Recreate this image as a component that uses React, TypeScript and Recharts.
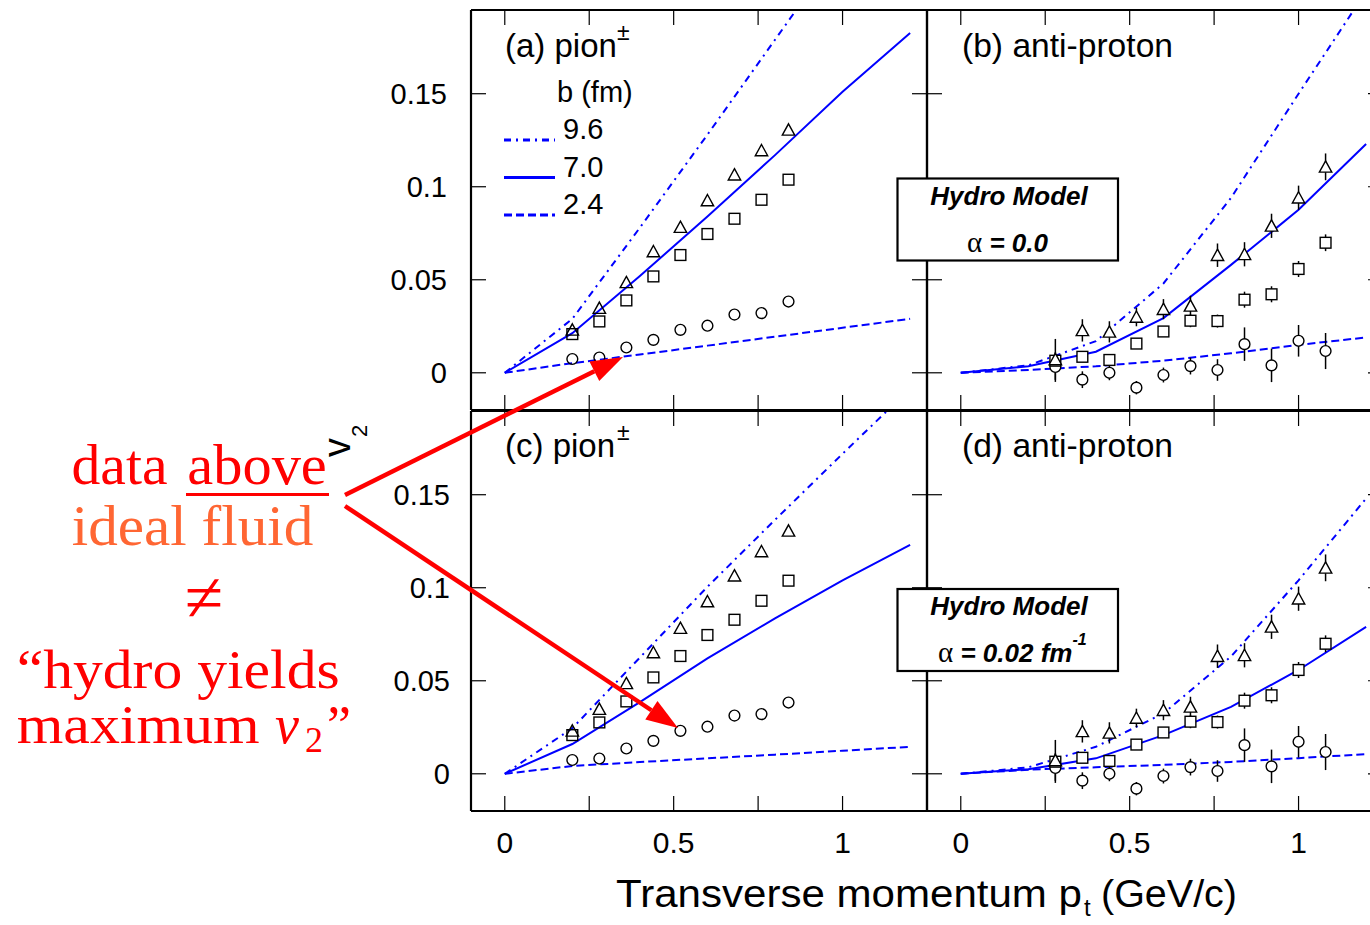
import React from 'react';
import { ComposedChart, Line, Scatter, XAxis, YAxis, ErrorBar } from 'recharts';

// ---------- data ----------
const xTicks = [0, 0.25, 0.5, 0.75, 1];
const yTicks = [0, 0.05, 0.1, 0.15];
const xLabelled = ['0', '0.5', '1'];

// hydro model curves, pt grid
const ptModel = [0, 0.2, 0.4, 0.6, 0.8, 1.0, 1.2];
// (a) pion, alpha = 0
const pionIdealB96 = [0, 0.029, 0.078, 0.128, 0.179, 0.23, 0.28];
const pionIdealB70 = [0, 0.0213, 0.052, 0.084, 0.117, 0.151, 0.1826];
const pionIdealB24 = [0, 0.0052, 0.0098, 0.0146, 0.0194, 0.0242, 0.029];
// (b) anti-proton, alpha = 0
const pbarIdealB96 = [0, 0.004, 0.017, 0.048, 0.094, 0.15, 0.205];
const pbarIdealB70 = [0, 0.0035, 0.0113, 0.0294, 0.058, 0.0876, 0.123];
const pbarIdealB24 = [0, 0.0015, 0.0035, 0.0065, 0.0105, 0.015, 0.019];
// (c) pion, alpha = 0.02 fm^-1
const pionViscB96 = [0, 0.0245, 0.0625, 0.1005, 0.1365, 0.172, 0.207];
const pionViscB70 = [0, 0.016, 0.0385, 0.062, 0.0835, 0.104, 0.123];
const pionViscB24 = [0, 0.0042, 0.0063, 0.0083, 0.0103, 0.0124, 0.0145];
// (d) anti-proton, alpha = 0.02 fm^-1
const pbarViscB96 = [0, 0.0035, 0.0145, 0.0325, 0.063, 0.104, 0.148];
const pbarViscB70 = [0, 0.0025, 0.0083, 0.0208, 0.036, 0.0558, 0.079];
const pbarViscB24 = [0, 0.0022, 0.0035, 0.0048, 0.0064, 0.0084, 0.0106];

// measured pion v2
const ptPion = [0.2, 0.28, 0.36, 0.44, 0.52, 0.6, 0.68, 0.76, 0.84];
const pionPeripheral = [0.0231, 0.0348, 0.0486, 0.0652, 0.0783, 0.0926, 0.1065, 0.1195, 0.1306];
const pionMidCentral = [0.0208, 0.0276, 0.0389, 0.0518, 0.0633, 0.0746, 0.0828, 0.093, 0.1038];
const pionCentral = [0.0074, 0.0082, 0.0136, 0.0177, 0.0231, 0.0253, 0.0313, 0.0321, 0.0383];

// measured anti-proton v2 with errors
const ptPbar = [0.28, 0.36, 0.44, 0.52, 0.6, 0.68, 0.76, 0.84, 0.92, 1.0, 1.08];
const pbarPeripheral = [0.0072, 0.0228, 0.022, 0.03, 0.0342, 0.036, 0.0632, 0.0637, 0.079, 0.0941, 0.1107];
const pbarPeripheralErr = [0.011, 0.006, 0.0057, 0.005, 0.0054, 0.0054, 0.0063, 0.0065, 0.0065, 0.0065, 0.0072];
const pbarMidCentral = [0.0065, 0.0086, 0.0069, 0.0157, 0.0222, 0.028, 0.0278, 0.0393, 0.0422, 0.0558, 0.0699];
const pbarMidCentralErr = [0.004, 0.002, 0.002, 0.002, 0.002, 0.0035, 0.0035, 0.0043, 0.0043, 0.0043, 0.0045];
const pbarCentral = [0.0031, -0.0037, 0, -0.008, -0.0012, 0.0036, 0.0015, 0.0154, 0.004, 0.0172, 0.0117];
const pbarCentralErr = [0.008, 0.0045, 0.004, 0.0036, 0.004, 0.0045, 0.0058, 0.009, 0.009, 0.0085, 0.0097];

// ---------- helpers ----------
const toSeries = (xs: number[], ys: number[]) => xs.map((pt, i) => ({ pt, v: ys[i] }));
const toSeriesErr = (xs: number[], ys: number[], es: number[]) =>
  xs.map((pt, i) => ({ pt, v: ys[i], e: es[i] }));

const SANS = '"Liberation Sans", Arial, Helvetica, sans-serif';
const SERIF = '"Liberation Serif", "Times New Roman", serif';
const BLUE = '#0000ff';
const RED = '#ff0000';
const TICK = 15;

const DASHDOT = '7 5 2 5';
const DASHED = '8 4';

const fmt = (v: number) => String(Math.round(v * 100) / 100);

const bottomTick = (show: boolean) => (p: any) => {
  const { x, y, payload } = p;
  const lab = fmt(payload.value);
  return (
    <g>
      <line x1={x} y1={y} x2={x} y2={y - TICK} stroke="#000" strokeWidth={1.2} />
      {show && xLabelled.includes(lab) ? (
        <text x={x} y={y + 42} textAnchor="middle" fontSize={30} fontFamily={SANS} fill="#000">
          {lab}
        </text>
      ) : null}
    </g>
  );
};
const topTick = (p: any) => (
  <line x1={p.x} y1={p.y} x2={p.x} y2={p.y + TICK} stroke="#000" strokeWidth={1.2} />
);
const leftTick = (show: boolean, gap: number) => (p: any) => {
  const { x, y, payload } = p;
  return (
    <g>
      <line x1={x} y1={y} x2={x + TICK} y2={y} stroke="#000" strokeWidth={1.2} />
      {show ? (
        <text x={x - gap} y={y + 10} textAnchor="end" fontSize={29} fontFamily={SANS} fill="#000">
          {fmt(payload.value)}
        </text>
      ) : null}
    </g>
  );
};
const rightTick = (p: any) => (
  <line x1={p.x} y1={p.y} x2={p.x - TICK} y2={p.y} stroke="#000" strokeWidth={1.2} />
);

const circleShape = (fill: string) => (p: any) => (
  <circle cx={p.cx} cy={p.cy} r={5.4} fill={fill} stroke="#000" strokeWidth={1.4} />
);
const squareShape = (fill: string) => (p: any) => (
  <rect x={p.cx - 5.4} y={p.cy - 5.4} width={10.8} height={10.8} fill={fill} stroke="#000" strokeWidth={1.4} />
);
const triangleShape = (fill: string) => (p: any) => (
  <polygon
    points={`${p.cx},${p.cy - 6} ${p.cx + 6.2},${p.cy + 5.3} ${p.cx - 6.2},${p.cy + 5.3}`}
    fill={fill}
    stroke="#000"
    strokeWidth={1.4}
  />
);

type LineSpec = { data: { pt: number; v: number }[]; dash?: string };
type ScatterSpec = { data: any[]; shape: any; err: boolean };

interface PanelProps {
  margin: { top: number; right: number; bottom: number; left: number };
  lines: LineSpec[];
  scatters: ScatterSpec[];
  xLabels: boolean;
  yLabels: boolean;
  yGap: number;
}

function Panel({ margin, lines, scatters, xLabels, yLabels, yGap }: PanelProps) {
  const axisLine = { stroke: '#000', strokeWidth: 2.2 };
  return (
    <div style={{ position: 'absolute', left: 0, top: 0 }}>
      <ComposedChart width={1400} height={925} margin={margin}>
        <XAxis
          type="number"
          dataKey="pt"
          domain={[-0.1, 1.25]}
          ticks={xTicks}
          allowDataOverflow
          orientation="bottom"
          height={1}
          tickSize={0}
          tickMargin={0}
          interval={0}
          tickLine={false}
          axisLine={axisLine}
          tick={bottomTick(xLabels)}
        />
        <XAxis
          xAxisId="top"
          type="number"
          dataKey="pt"
          domain={[-0.1, 1.25]}
          ticks={xTicks}
          allowDataOverflow
          orientation="top"
          height={1}
          tickSize={0}
          tickMargin={0}
          interval={0}
          tickLine={false}
          axisLine={axisLine}
          tick={topTick}
        />
        <YAxis
          type="number"
          dataKey="v"
          domain={[-0.02, 0.195]}
          ticks={yTicks}
          allowDataOverflow
          orientation="left"
          width={1}
          tickSize={0}
          tickMargin={0}
          interval={0}
          tickLine={false}
          axisLine={axisLine}
          tick={leftTick(yLabels, yGap)}
        />
        <YAxis
          yAxisId="right"
          type="number"
          dataKey="v"
          domain={[-0.02, 0.195]}
          ticks={yTicks}
          allowDataOverflow
          orientation="right"
          width={1}
          tickSize={0}
          tickMargin={0}
          interval={0}
          tickLine={false}
          axisLine={axisLine}
          tick={rightTick}
        />
        {lines.map((l, i) => (
          <Line
            key={'l' + i}
            data={l.data}
            dataKey="v"
            type="linear"
            stroke={BLUE}
            strokeWidth={2}
            strokeDasharray={l.dash}
            dot={false}
            activeDot={false}
            isAnimationActive={false}
          />
        ))}
        {scatters.map((s, i) => (
          <Scatter key={'s' + i} data={s.data} dataKey="v" shape={s.shape} isAnimationActive={false}>
            {s.err ? (
              <ErrorBar dataKey="e" direction="y" width={0} stroke="#000" strokeWidth={1.5} />
            ) : null}
          </Scatter>
        ))}
      </ComposedChart>
    </div>
  );
}

const arrowHead = (x0: number, y0: number, x1: number, y1: number, L: number, W: number) => {
  const dx = x1 - x0;
  const dy = y1 - y0;
  const len = Math.sqrt(dx * dx + dy * dy);
  const ux = dx / len;
  const uy = dy / len;
  const bx = x1 - L * ux;
  const by = y1 - L * uy;
  const nx = -uy;
  const ny = ux;
  return {
    base: [bx, by],
    pts: `${x1},${y1} ${bx + W * nx},${by + W * ny} ${bx - W * nx},${by - W * ny}`,
  };
};

function Arrow({ x0, y0, x1, y1 }: { x0: number; y0: number; x1: number; y1: number }) {
  const h = arrowHead(x0, y0, x1, y1, 32, 11);
  return (
    <g>
      <line x1={x0} y1={y0} x2={h.base[0]} y2={h.base[1]} stroke={RED} strokeWidth={4.5} />
      <polygon points={h.pts} fill={RED} />
    </g>
  );
}

export default function App() {
  const pionA = [
    { data: toSeries(ptModel, pionIdealB96), dash: DASHDOT },
    { data: toSeries(ptModel, pionIdealB70) },
    { data: toSeries(ptModel, pionIdealB24), dash: DASHED },
  ];
  const pbarB = [
    { data: toSeries(ptModel, pbarIdealB96), dash: DASHDOT },
    { data: toSeries(ptModel, pbarIdealB70) },
    { data: toSeries(ptModel, pbarIdealB24), dash: DASHED },
  ];
  const pionC = [
    { data: toSeries(ptModel, pionViscB96), dash: DASHDOT },
    { data: toSeries(ptModel, pionViscB70) },
    { data: toSeries(ptModel, pionViscB24), dash: DASHED },
  ];
  const pbarD = [
    { data: toSeries(ptModel, pbarViscB96), dash: DASHDOT },
    { data: toSeries(ptModel, pbarViscB70) },
    { data: toSeries(ptModel, pbarViscB24), dash: DASHED },
  ];
  const pionPts: ScatterSpec[] = [
    { data: toSeries(ptPion, pionCentral), shape: circleShape('none'), err: false },
    { data: toSeries(ptPion, pionMidCentral), shape: squareShape('none'), err: false },
    { data: toSeries(ptPion, pionPeripheral), shape: triangleShape('none'), err: false },
  ];
  const pbarPts: ScatterSpec[] = [
    { data: toSeriesErr(ptPbar, pbarCentral, pbarCentralErr), shape: circleShape('#fff'), err: true },
    { data: toSeriesErr(ptPbar, pbarMidCentral, pbarMidCentralErr), shape: squareShape('#fff'), err: true },
    { data: toSeriesErr(ptPbar, pbarPeripheral, pbarPeripheralErr), shape: triangleShape('#fff'), err: true },
  ];

  return (
    <div
      style={{
        position: 'absolute',
        left: 0,
        top: 0,
        width: 1370,
        height: 925,
        overflow: 'hidden',
        background: '#fff',
      }}
    >
      <Panel margin={{ top: 9, right: 472, bottom: 514, left: 470 }} lines={pionA} scatters={pionPts} xLabels={false} yLabels yGap={24} />
      <Panel margin={{ top: 9, right: 16, bottom: 514, left: 926 }} lines={pbarB} scatters={pbarPts} xLabels={false} yLabels={false} yGap={0} />
      <Panel margin={{ top: 410, right: 472, bottom: 113, left: 470 }} lines={pionC} scatters={pionPts} xLabels yLabels yGap={21} />
      <Panel margin={{ top: 410, right: 16, bottom: 113, left: 926 }} lines={pbarD} scatters={pbarPts} xLabels yLabels={false} yGap={0} />

      <svg width={1370} height={925} style={{ position: 'absolute', left: 0, top: 0, pointerEvents: 'none' }}>
        {/* panel labels */}
        <g fontFamily={SANS} fill="#000">
          <text x={505} y={57} fontSize={33}>(a) pion</text>
          <text x={617} y={40} fontSize={23}>±</text>
          <text x={962} y={57} fontSize={33} textLength={211} lengthAdjust="spacingAndGlyphs">(b) anti-proton</text>
          <text x={505} y={457} fontSize={33}>(c) pion</text>
          <text x={617} y={440} fontSize={23}>±</text>
          <text x={962} y={457} fontSize={33} textLength={211} lengthAdjust="spacingAndGlyphs">(d) anti-proton</text>

          {/* legend */}
          <text x={557} y={102} fontSize={29}>b (fm)</text>
          <text x={563} y={139} fontSize={29}>9.6</text>
          <text x={563} y={177} fontSize={29}>7.0</text>
          <text x={563} y={214} fontSize={29}>2.4</text>
        </g>
        <line x1={504} y1={140} x2={555} y2={140} stroke={BLUE} strokeWidth={3} strokeDasharray={DASHDOT} />
        <line x1={504} y1={177.5} x2={555} y2={177.5} stroke={BLUE} strokeWidth={3} />
        <line x1={504} y1={215} x2={555} y2={215} stroke={BLUE} strokeWidth={3} strokeDasharray={DASHED} />

        {/* hydro model boxes */}
        <rect x={897.5} y={178.5} width={220.5} height={82} fill="#fff" stroke="#000" strokeWidth={2.2} />
        <text x={1009} y={205} textAnchor="middle" fontSize={26} fontWeight="bold" fontStyle="italic" fontFamily={SANS}>
          Hydro Model
        </text>
        <text x={967} y={252} fontSize={26} fontFamily={SANS} fontWeight="bold" fontStyle="italic">
          <tspan fontFamily={SERIF} fontWeight="normal" fontStyle="normal" fontSize={29}>α</tspan>
          <tspan>{' = 0.0'}</tspan>
        </text>

        <rect x={897.5} y={589} width={220.5} height={82} fill="#fff" stroke="#000" strokeWidth={2.2} />
        <text x={1009} y={615} textAnchor="middle" fontSize={26} fontWeight="bold" fontStyle="italic" fontFamily={SANS}>
          Hydro Model
        </text>
        <text x={938} y={662} fontSize={26} fontFamily={SANS} fontWeight="bold" fontStyle="italic">
          <tspan fontFamily={SERIF} fontWeight="normal" fontStyle="normal" fontSize={29}>α</tspan>
          <tspan>{' = 0.02 fm'}</tspan>
          <tspan dx={0} dy={-17} fontSize={16}>-1</tspan>
        </text>

        {/* axis titles */}
        <g transform="translate(350,457) rotate(-90)">
          <text x={0} y={0} fontSize={38} fontFamily={SANS} fill="#000">
            v
          </text>
          <text x={20} y={17} fontSize={22} fontFamily={SANS} fill="#000">
            2
          </text>
        </g>
        <text x={616} y={907} fontSize={38} fontFamily={SANS} fill="#000" textLength={466} lengthAdjust="spacingAndGlyphs">
          Transverse momentum p
        </text>
        <text x={1084} y={916} fontSize={24} fontFamily={SANS} fill="#000">t</text>
        <text x={1101} y={907} fontSize={38} fontFamily={SANS} fill="#000" textLength={136} lengthAdjust="spacingAndGlyphs">
          (GeV/c)
        </text>

        {/* red annotation */}
        <g fontFamily={SERIF}>
          <text x={71.5} y={484} fontSize={56} fill={RED} textLength={96} lengthAdjust="spacingAndGlyphs">data</text>
          <text x={187.3} y={484} fontSize={56} fill={RED} textLength={139.5} lengthAdjust="spacingAndGlyphs">above</text>
          <line x1={186} y1={494.5} x2={329} y2={494.5} stroke={RED} strokeWidth={3} />
          <text x={71.7} y={545} fontSize={56} fill="#ff6633" textLength={241.6} lengthAdjust="spacingAndGlyphs">ideal fluid</text>
          <text x={204} y={621} fontSize={70} fill={RED} textAnchor="middle">≠</text>
          <text x={16.7} y={688} fontSize={54} fill={RED} textLength={323} lengthAdjust="spacingAndGlyphs">“hydro yields</text>
          <text x={16.7} y={743} fontSize={54} fill={RED} textLength={243} lengthAdjust="spacingAndGlyphs">maximum</text>
          <text x={275} y={743} fontSize={54} fill={RED} fontStyle="italic">v</text>
          <text x={305} y={752} fontSize={36} fill={RED}>2</text>
          <text x={327} y={743} fontSize={54} fill={RED}>”</text>
        </g>
        <Arrow x0={345} y0={495} x1={623} y1={357} />
        <Arrow x0={345} y0={506} x1={678} y1={728} />
      </svg>
    </div>
  );
}
